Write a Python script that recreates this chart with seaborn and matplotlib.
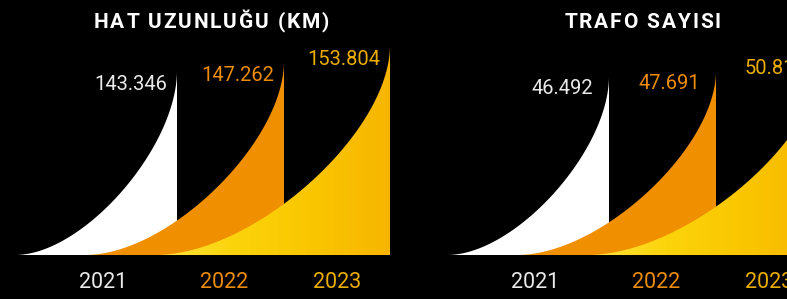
import numpy as np
import matplotlib
matplotlib.use("Agg")
import matplotlib.pyplot as plt
import matplotlib.transforms as mtrans
from matplotlib.colors import LinearSegmentedColormap
import seaborn as sns

# ---------------- data ----------------
years = ["2021", "2022", "2023"]
panel_titles = ["HAT UZUNLUĞU (KM)", "TRAFO SAYISI"]
hat_uzunlugu = [143.346, 147.262, 153.804]
trafo_sayisi = [46.492, 47.691, 50.815]
hat_labels = ["143.346", "147.262", "153.804"]
trafo_labels = ["46.492", "47.691", "50.815"]

# ---------------- style ----------------
sns.set_theme(style="dark")
plt.rcParams["font.family"] = ["Roboto", "DejaVu Sans"]

W, H, DPI = 787, 299, 100
BASE_PX = 255                     # baseline, pixels from top
fig = plt.figure(figsize=(W / DPI, H / DPI), dpi=DPI, facecolor="black")

shape_start = [15, 85, 155]
shape_end = [177, 284, 390]
year_x = [103, 224, 337]
panel_left = [0, 432]
ylims = [(67.0, 172.4), (6.86, 63.31)]
label_dx = [-10, -16]
label_dy = [-5, -3]
CA, CB = 0.42, 0.58              # bezier control shape of the curves

white = "#FFFFFF"
orange = "#F08F00"
yellow_cmap = LinearSegmentedColormap.from_list(
    "yel", ["#FFE53C", "#FCD40C", "#FAC600", "#F7B500"])
text_colors = ["#EAEAEA", "#EC8C0A", "#EBAE00"]

panels = [(hat_uzunlugu, hat_labels), (trafo_sayisi, trafo_labels)]

t = np.linspace(0, 1, 400)
bx = 3 * (1 - t) ** 2 * t * CA + 3 * (1 - t) * t ** 2 + t ** 3
by = 3 * (1 - t) * t ** 2 * CB + t ** 3

for p, (vals, labs) in enumerate(panels):
    ax = fig.add_axes([panel_left[p] / W, (H - BASE_PX) / H,
                       400 / W, BASE_PX / H])
    ax.set_facecolor("black")
    ax.set_axis_off()
    y0 = ylims[p][0]
    for i, v in enumerate(vals):
        xs = shape_start[i] + (shape_end[i] - shape_start[i]) * bx
        ys = y0 + (v - y0) * by
        xs = np.append(xs, shape_end[i])
        ys = np.append(ys, y0)
        if i == 2:
            poly = ax.fill_between(xs, y0, ys, facecolor="none",
                                   edgecolor="none", zorder=2 + i)
            im = ax.imshow(np.linspace(0, 1, 256)[None, :], cmap=yellow_cmap,
                           extent=[shape_start[i], shape_end[i], y0, v],
                           aspect="auto", origin="lower", zorder=2 + i)
            im.set_clip_path(poly.get_paths()[0], transform=ax.transData)
        else:
            col = white if i == 0 else orange
            ax.fill_between(xs, y0, ys, facecolor=col, edgecolor="none",
                            zorder=2 + i)
        ax.annotate(labs[i], xy=(shape_end[i], v), xytext=(label_dx[p], label_dy[p]),
                    textcoords="offset pixels", ha="right", va="top",
                    fontsize=14.5, fontweight="normal", color=text_colors[i],
                    zorder=10, annotation_clip=False)
        ax.annotate(years[i], xy=(year_x[i], 0), xycoords=("data", "axes fraction"),
                    xytext=(0, -27), textcoords="offset pixels",
                    ha="center", va="center", fontsize=15.5, fontweight="normal",
                    color=text_colors[i], annotation_clip=False)
    ax.set_xlim(0, 400)
    ax.set_ylim(*ylims[p])

# ---------------- letter-spaced titles ----------------
renderer = fig.canvas.get_renderer()
ident = mtrans.IdentityTransform()


def spaced_title(s, cx, cy_top, spacing, space_w):
    kw = dict(fontsize=15, fontweight="bold", color="white",
              family=["Roboto", "DejaVu Sans"], va="center", ha="left",
              transform=ident)
    items = []
    for ch in s:
        if ch == " ":
            items.append((None, space_w))
            continue
        txt = fig.text(0, 0, ch, **kw)
        w = txt.get_window_extent(renderer).width
        items.append((txt, w))
    total = sum(w for _, w in items) + spacing * (len(items) - 1)
    x = cx - total / 2
    for txt, w in items:
        if txt is not None:
            txt.set_position((x, H - cy_top))
        x += w + spacing


spaced_title(panel_titles[0], 211.5, 22, 1.9, 5)
spaced_title(panel_titles[1], 642.5, 22, 1.9, 5)

fig.savefig("out.png", dpi=DPI, facecolor="black")
